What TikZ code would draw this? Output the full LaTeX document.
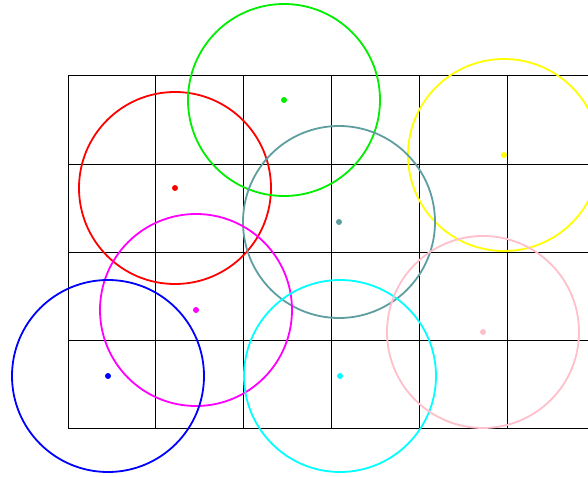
\documentclass[tikz,border=0pt]{standalone}
\usetikzlibrary{calc}
\definecolor{cteal}{HTML}{5F9EA0}
\definecolor{cpink}{HTML}{FFC0CB}
\definecolor{cgreen}{HTML}{00EE00}
\definecolor{cyellow}{HTML}{FFFF00}
\definecolor{cmag}{HTML}{FF00FF}
\definecolor{ccyan}{HTML}{00FFFF}
\definecolor{cblue}{HTML}{0000FF}
\definecolor{cred}{HTML}{FF0000}
\tikzset{
  gridline/.style={draw=black, line width=1pt},
  ring/.style={circle, draw=#1, line width=1.8pt, minimum size=192pt, inner sep=0pt},
  dot/.style={circle, fill=#1, minimum size=6pt, inner sep=0pt},
}
\begin{document}
\begin{tikzpicture}[x=1pt,y=-1pt]
\useasboundingbox (0,0) rectangle (588,476);
\fill[white] (0,0) rectangle (588,476);
% grid
\foreach \x in {68,155,243,331,419,507}
  \draw[gridline] (\x,76) -- (\x,428);
\foreach \y in {76,164,252,340,428}
  \draw[gridline] (68,\y) -- (588,\y);
% circles
\foreach \n/\c/\x/\y in {r/cred/175/188, g/cgreen/284/100, y/cyellow/504/155, t/cteal/339/222, m/cmag/196/310, b/cblue/108/376, c/ccyan/340/376, p/cpink/483/332}{
  \node[ring=\c] (ring\n) at (\x,\y) {};
  \node[dot=\c] (dot\n) at (\x,\y) {};
}
\end{tikzpicture}
\end{document}
